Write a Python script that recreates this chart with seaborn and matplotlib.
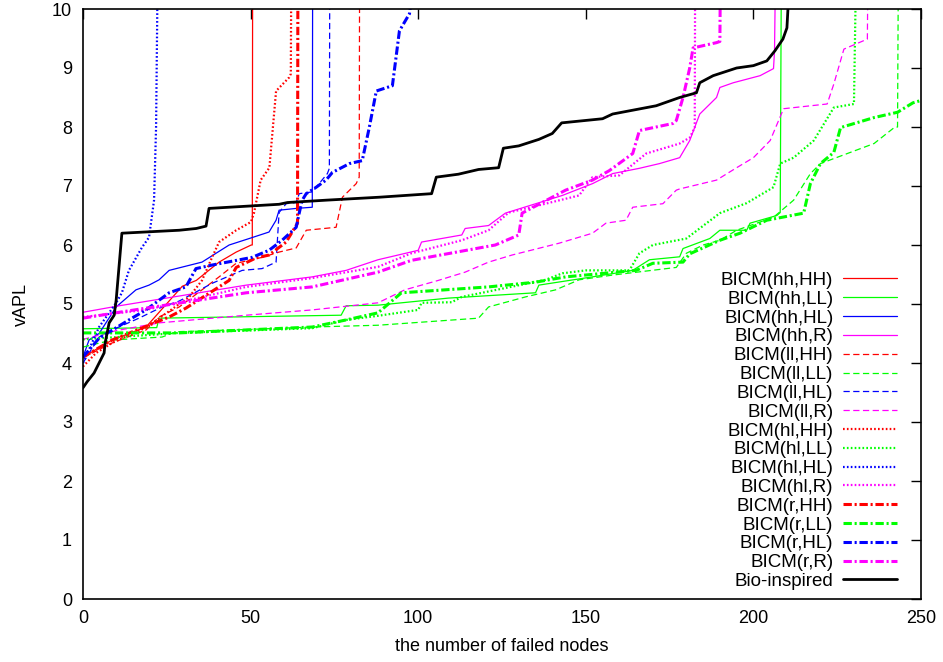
import matplotlib
matplotlib.use("Agg")
import matplotlib.pyplot as plt
import seaborn as sns

# x = number of failed nodes, y = vAPL
bio_x = [0, 1.2, 3.3, 4.8, 6.3, 6.6, 7.8, 9.3, 9.9, 11.6, 28.7, 33.8, 36.7, 37.6, 58.5, 61, 72.6, 88.4,
         104, 105.4, 112, 118, 124, 125.4, 130, 136, 140, 142.8, 155, 158, 171, 178, 183, 184, 188,
         195, 200, 204, 206.4, 208.8, 210, 210.5]
bio_y = [3.58, 3.68, 3.83, 4.0, 4.17, 4.34, 4.68, 4.81, 5.07, 6.2, 6.25, 6.28, 6.32, 6.62, 6.69, 6.72,
         6.76, 6.81, 6.87, 7.15, 7.2, 7.28, 7.31, 7.64, 7.68, 7.79, 7.89, 8.07, 8.14, 8.22, 8.36, 8.5,
         8.58, 8.75, 8.87, 9.0, 9.04, 9.12, 9.29, 9.49, 9.68, 10.2]

hh_HH_x = [0, 8.7, 18.8, 29.6, 33.8, 40.6, 45.7, 50.2, 50.5, 50.6]
hh_HH_y = [4.1, 4.39, 4.61, 5.3, 5.4, 5.71, 5.88, 6.0, 6.0, 10.2]
hh_LL_x = [0, 22, 22.7, 77, 78.5, 88, 109, 135, 136, 152, 164, 169, 178, 179, 187, 190, 198, 199, 207,
           208, 208.3]
hh_LL_y = [4.58, 4.6, 4.76, 4.81, 4.97, 4.98, 5.1, 5.19, 5.32, 5.46, 5.57, 5.75, 5.8, 5.94, 6.11, 6.25,
           6.25, 6.37, 6.5, 6.55, 10.2]
hh_HL_x = [0, 1.8, 4.8, 9.9, 15.8, 19.7, 22.7, 25.7, 35.5, 43.6, 49.6, 55.5, 57.6, 58.5, 63.6, 68.4, 68.5]
hh_HL_y = [4.1, 4.39, 4.5, 4.95, 5.24, 5.32, 5.41, 5.57, 5.71, 6.0, 6.11, 6.22, 6.42, 6.59, 6.62, 6.64, 10.2]
hh_R_x = [0, 10.8, 48.7, 68.4, 78.5, 88, 100, 101, 113, 114, 121, 126, 143, 152, 158, 166, 172, 178,
          181, 184, 189, 190, 194, 202, 206, 206.3, 206.5]
hh_R_y = [4.86, 4.97, 5.32, 5.46, 5.57, 5.75, 5.91, 6.05, 6.17, 6.28, 6.33, 6.54, 6.84, 7.04, 7.21, 7.3,
          7.38, 7.48, 7.77, 8.22, 8.5, 8.67, 8.75, 8.87, 8.99, 9.29, 10.2]

ll_HH_x = [0, 8.7, 18.8, 22.7, 28.7, 35.5, 40.6, 45.7, 53.4, 58.5, 63.6, 66.6, 75.5, 77.4, 81.5, 82.4, 82.5]
ll_HH_y = [4.09, 4.34, 4.56, 4.78, 4.95, 5.24, 5.46, 5.69, 5.79, 5.88, 5.95, 6.25, 6.3, 6.81, 7.04, 7.15, 10.2]
ll_LL_x = [0, 8.7, 23.6, 27.8, 50, 68.4, 88, 118, 121, 132, 141, 148, 158, 177, 180, 185, 190, 195,
           206, 212, 217, 220, 228, 236, 242, 243, 243.2]
ll_LL_y = [4.27, 4.39, 4.44, 4.53, 4.57, 4.61, 4.64, 4.76, 4.95, 5.12, 5.24, 5.41, 5.49, 5.62, 5.86,
           6.0, 6.08, 6.25, 6.47, 6.76, 7.21, 7.38, 7.55, 7.72, 7.99, 8.0, 10.2]
ll_HL_x = [0, 4.8, 8.7, 16.7, 23.6, 28.7, 38.5, 47.5, 53.4, 57.6, 58.5, 60.6, 63.6, 64.5, 68.4, 72.9, 73.5, 73.6]
ll_HL_y = [4.0, 4.44, 4.56, 4.76, 4.95, 5.05, 5.35, 5.57, 5.6, 5.71, 6.55, 6.7, 6.72, 6.87, 6.9, 7.21, 7.3, 10.2]
ll_R_x = [0, 10, 22.7, 48.7, 68.4, 88, 96, 106, 114, 121, 128, 142, 152, 156, 162, 164, 173, 177, 178,
          189, 195, 200, 205, 209, 222, 224, 227, 234, 234.1]
ll_R_y = [4.4, 4.55, 4.68, 4.81, 4.9, 5.02, 5.24, 5.4, 5.54, 5.71, 5.83, 6.03, 6.2, 6.37, 6.42, 6.64,
          6.7, 6.93, 6.95, 7.1, 7.31, 7.48, 7.77, 8.31, 8.39, 8.73, 9.32, 9.49, 10.2]

hl_HH_x = [0, 3.9, 8.7, 18.8, 31.7, 35.5, 38.5, 40.6, 45.7, 50.1, 51, 53, 55.6, 57.6, 61.5, 62, 62.1]
hl_HH_y = [3.94, 4.17, 4.34, 4.6, 5.12, 5.4, 5.79, 6.05, 6.25, 6.39, 6.54, 7.1, 7.31, 8.61, 8.84, 8.9, 10.2]
hl_LL_x = [0, 28.7, 68.4, 78.5, 88, 100, 101, 110, 113, 138, 143, 150, 163, 166, 170, 180, 190, 198,
           206, 208, 212, 218, 224, 230, 230.5]
hl_LL_y = [4.4, 4.51, 4.59, 4.73, 4.8, 4.9, 5.02, 5.03, 5.12, 5.41, 5.52, 5.57, 5.57, 5.86, 6.0, 6.11,
           6.54, 6.71, 6.98, 7.38, 7.48, 7.77, 8.33, 8.39, 10.2]
hl_HL_x = [0, 4.8, 9.9, 11.6, 13.7, 17.6, 19.7, 21.2, 21.8, 22.2]
hl_HL_y = [4.0, 4.61, 5.02, 5.19, 5.57, 5.96, 6.13, 6.76, 8.0, 10.2]
hl_R_x = [0, 18.8, 48.7, 68.4, 88, 98, 113, 121, 127, 138, 148, 152, 160, 168, 178, 181, 182.5, 182.6]
hl_R_y = [4.78, 4.9, 5.29, 5.44, 5.63, 5.86, 6.08, 6.25, 6.55, 6.7, 6.84, 7.15, 7.18, 7.55, 7.72, 7.82,
          7.99, 10.2]

r_HH_x = [0, 8.7, 25.7, 30.7, 43.6, 45.7, 51.6, 55.5, 60.6, 64, 64.1]
r_HH_y = [4.1, 4.39, 4.78, 4.93, 5.4, 5.62, 5.78, 5.83, 6.05, 6.37, 10.2]
r_LL_x = [0, 28.7, 68.4, 78.5, 88, 95, 121, 135, 144, 165, 170, 179, 181, 190, 196, 204, 215, 217,
          220, 224, 226, 236, 243, 247.6, 250]
r_LL_y = [4.51, 4.51, 4.61, 4.73, 4.85, 5.19, 5.29, 5.37, 5.46, 5.57, 5.69, 5.71, 5.85, 6.08, 6.2,
          6.42, 6.54, 7.04, 7.38, 7.57, 7.99, 8.16, 8.25, 8.41, 8.45]
r_HL_x = [0, 4.8, 13.7, 18.8, 25.7, 30.7, 33.7, 38.5, 50.4, 55.5, 59.4, 63.6, 64.5, 65.4, 66.6, 69.6,
          72.5, 74.4, 79.5, 83.3, 85.4, 87.5, 92.3, 94.4, 97.4, 98]
r_HL_y = [4.1, 4.42, 4.73, 4.9, 5.19, 5.29, 5.6, 5.66, 5.79, 5.91, 6.08, 6.3, 6.54, 6.76, 6.87, 6.98,
          7.1, 7.23, 7.38, 7.43, 7.99, 8.61, 8.7, 9.63, 9.92, 10.2]
r_R_x = [0, 10.8, 48.7, 68.4, 88, 98, 123, 130, 131, 144, 152, 157, 164, 166, 176, 177, 179, 181, 182,
         189, 190, 190.1]
r_R_y = [4.76, 4.86, 5.19, 5.29, 5.54, 5.74, 6.0, 6.17, 6.54, 6.93, 7.1, 7.26, 7.55, 7.94, 8.06, 8.11,
         8.5, 9.0, 9.34, 9.43, 9.45, 10.2]

series = [
    ("hh", "HH", hh_HH_x, hh_HH_y), ("hh", "LL", hh_LL_x, hh_LL_y),
    ("hh", "HL", hh_HL_x, hh_HL_y), ("hh", "R", hh_R_x, hh_R_y),
    ("ll", "HH", ll_HH_x, ll_HH_y), ("ll", "LL", ll_LL_x, ll_LL_y),
    ("ll", "HL", ll_HL_x, ll_HL_y), ("ll", "R", ll_R_x, ll_R_y),
    ("hl", "HH", hl_HH_x, hl_HH_y), ("hl", "LL", hl_LL_x, hl_LL_y),
    ("hl", "HL", hl_HL_x, hl_HL_y), ("hl", "R", hl_R_x, hl_R_y),
    ("r", "HH", r_HH_x, r_HH_y), ("r", "LL", r_LL_x, r_LL_y),
    ("r", "HL", r_HL_x, r_HL_y), ("r", "R", r_R_x, r_R_y),
]

colors = {"HH": "#ff0000", "LL": "#00ff00", "HL": "#0000ff", "R": "#ff00ff"}
# linestyle and width per first letter pair (gnuplot-ish look)
styles = {
    "hh": ("-", 0.9),
    "ll": ((0, (4.5, 2.5)), 0.9),
    "hl": ((0, (1.2, 1.6)), 1.6),
    "r": ((0, (6, 2, 1.5, 2)), 2.2),
}

sns.set_style("white")
plt.rcParams["font.family"] = ["Liberation Sans", "DejaVu Sans"]
plt.rcParams["lines.scale_dashes"] = False
plt.rcParams["text.color"] = "black"
plt.rcParams["axes.labelcolor"] = "black"

fig, ax = plt.subplots(figsize=(9.43, 6.62), dpi=100)
fig.subplots_adjust(left=83 / 943, right=921 / 943, bottom=63 / 662, top=653 / 662)

for a, b, xs, ys in series:
    ls, lw = styles[a]
    sns.lineplot(x=xs, y=ys, ax=ax, color=colors[b], lw=lw, linestyle=ls,
                 estimator=None, sort=False, label=f"BICM({a},{b})")
sns.lineplot(x=bio_x, y=bio_y, ax=ax, color="black", lw=2.0,
             estimator=None, sort=False, label="Bio-inspired")

ax.set_xlim(0, 250)
ax.set_ylim(0, 10)
ax.set_xticks(range(0, 251, 50))
ax.set_yticks(range(0, 11))
ax.tick_params(direction="in", length=7, width=1, top=True, right=True,
               labelsize=13, pad=8, colors="black")
for sp in ax.spines.values():
    sp.set_color("black")
    sp.set_linewidth(1.2)
ax.set_xlabel("the number of failed nodes", fontsize=13, labelpad=8)
ax.set_ylabel("vAPL", fontsize=13, labelpad=16)

leg = ax.legend(loc="lower right", bbox_to_anchor=(1 - 24 / 838, 9 / 590), markerfirst=False,
                frameon=False, fontsize=13.5, handlelength=2.9, handletextpad=0.5,
                labelspacing=0.09, borderpad=0, borderaxespad=0)
for t in leg.get_texts():
    t.set_color("black")

fig.savefig("out.png", dpi=100)
